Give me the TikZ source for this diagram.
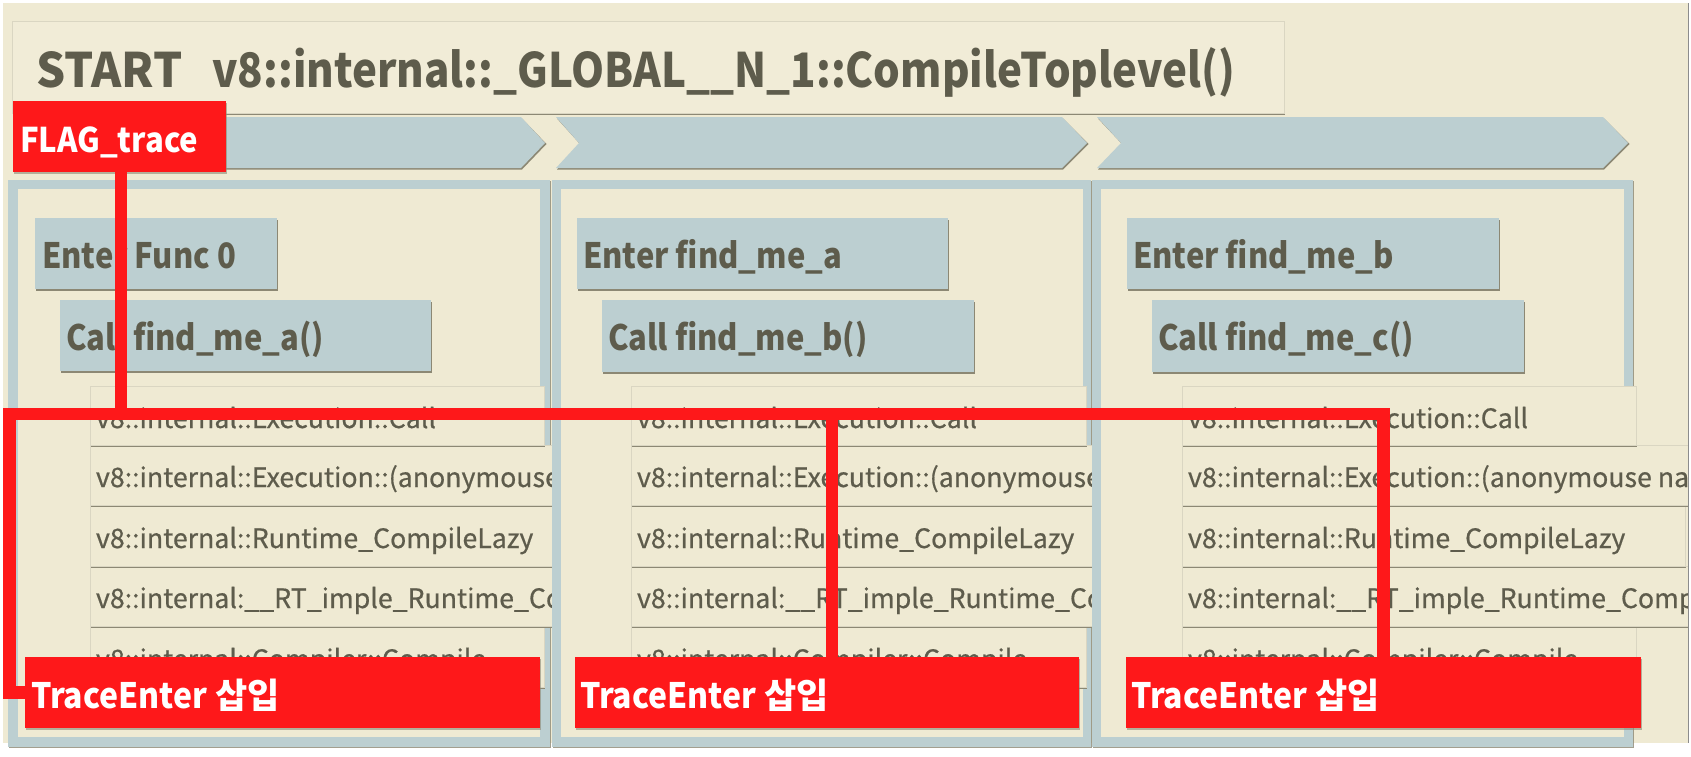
\documentclass[tikz,border=0pt]{standalone}
\usepackage{fontspec}
\setmainfont{Noto Sans CJK KR}
\newfontfamily\condA{Noto Sans CJK KR}[FakeStretch=0.885]
\newfontfamily\condB{Noto Sans CJK KR}[FakeStretch=0.915]
\newfontfamily\rowf{Noto Sans CJK KR}[FakeBold=0.6]
\usetikzlibrary{shadows}
\definecolor{bgc}{RGB}{239,234,211}
\definecolor{bgl}{RGB}{241,236,215}
\definecolor{blu}{RGB}{188,207,209}
\definecolor{txt}{RGB}{94,92,76}
\definecolor{shd}{RGB}{140,136,116}
\definecolor{rd}{RGB}{254,24,26}
\definecolor{rowedge}{RGB}{218,214,194}
\begin{document}
\begin{tikzpicture}[x=1pt,y=-1pt,
  box/.style={anchor=north west, inner sep=0pt, outer sep=0pt, draw=none},
  bluebox/.style={box, fill=blu, drop shadow={shadow xshift=1pt, shadow yshift=-1.8pt, fill=shd, opacity=1}},
  rowbox/.style={box, fill=bgc, draw=rowedge, line width=0.8pt, drop shadow={shadow xshift=0.8pt, shadow yshift=-1.6pt, fill=shd, opacity=1}},
  redbox/.style={box, fill=rd, drop shadow={shadow xshift=1pt, shadow yshift=-1.5pt, fill=shd, opacity=0.6}},
  paneout/.style={box, fill=blu, drop shadow={shadow xshift=1.2pt, shadow yshift=-1pt, fill=shd, opacity=0.8}},
  panein/.style={box, fill=bgc},
  lbl/.style={anchor=base west, inner sep=0pt, outer sep=0pt, text=txt, font=\condA\bfseries\fontsize{35}{40}\selectfont},
  rowlbl/.style={anchor=base west, inner sep=0pt, outer sep=0pt, text=txt, font=\rowf\fontsize{26.7}{32}\selectfont},
  wlbl/.style={anchor=base west, inner sep=0pt, outer sep=0pt, text=white, font=\bfseries\fontsize{35}{40}\selectfont},
  redline/.style={draw=rd, line width=12.5pt},
  chev/.style={fill=blu},
  chevshd/.style={fill=shd},
]
\useasboundingbox (0,0) rectangle (1691,756);
\fill[white] (0,0) rectangle (1691,756);
\fill[bgc] (3,3) rectangle (1688,743);

% title
\node[box, fill=bgl, draw=rowedge, line width=0.8pt, drop shadow={shadow xshift=1pt, shadow yshift=-1.6pt, fill=shd, opacity=1}, minimum width=1272pt, minimum height=92pt] (title) at (12,21) {};
\node[lbl, font=\condA\bfseries\fontsize{47.5}{56}\selectfont] (titletxt) at (36,87) {\scalebox{1.09}[1]{START}\hspace{30pt}v8::internal::\_GLOBAL\_\_N\_1::CompileToplevel()};

% chevrons
\fill[chevshd] (14,118.5) -- (522,118.5) -- (546.5,144) -- (522,169.5) -- (14,169.5) -- cycle;
\fill[chev] (13,117) -- (521,117) -- (545,143) -- (521,168) -- (13,168) -- cycle;
\fill[chevshd] (557,118.5) -- (1063,118.5) -- (1088.5,144) -- (1063,169.5) -- (557,169.5) -- (580,144) -- cycle;
\fill[chev] (556,117) -- (1062,117) -- (1087,143) -- (1062,168) -- (556,168) -- (579,143) -- cycle;
\fill[chevshd] (1098,118.5) -- (1604,118.5) -- (1629.5,144) -- (1604,169.5) -- (1098,169.5) -- (1122,144) -- cycle;
\fill[chev] (1097,117) -- (1603,117) -- (1628,143) -- (1603,168) -- (1097,168) -- (1121,143) -- cycle;

% panel 1
\node[paneout, minimum width=542pt, minimum height=567pt] (p1o) at (8,180) {};
\node[panein, minimum width=522pt, minimum height=548pt] (p1) at (18,189) {};
\node[bluebox, minimum width=242pt, minimum height=71pt] (e1) at (35,218) {};
\node[lbl] (e1t) at (42,268) {Enter Func 0};
\node[bluebox, minimum width=371pt, minimum height=71pt] (c1) at (60,300) {};
\node[lbl] (c1t) at (66,350) {Call find\_me\_a()};
\node[rowbox, minimum width=454pt, minimum height=61pt] (r15) at (90,626) {};
\node[rowbox, minimum width=470pt, minimum height=60pt] (r14) at (90,566) {};
\node[rowbox, minimum width=470pt, minimum height=61pt] (r13) at (90,505) {};
\node[rowbox, minimum width=470pt, minimum height=60pt] (r12) at (90,445) {};
\node[rowbox, minimum width=454pt, minimum height=59pt] (r11) at (90,386) {};
\node[rowlbl] (r11t) at (96,428) {v8::internal::Execution::Call};
\node[rowlbl] (r12t) at (96,487) {v8::internal::Execution::(anonymouse};
\node[rowlbl] (r13t) at (96,548) {v8::internal::Runtime\_CompileLazy};
\node[rowlbl] (r14t) at (96,608) {v8::internal:\_\_RT\_imple\_Runtime\_Com};
\node[rowlbl] (r15t) at (96,669) {v8::internal::Compiler::Compile};

% panel 2
\node[paneout, minimum width=539pt, minimum height=567pt] (p2o) at (552,180) {};
\node[panein, minimum width=522pt, minimum height=548pt] (p2) at (561,189) {};
\node[bluebox, minimum width=371pt, minimum height=71pt] (e2) at (577,218) {};
\node[lbl] (e2t) at (583,268) {Enter find\_me\_a};
\node[bluebox, minimum width=372pt, minimum height=72pt] (c2) at (602,300) {};
\node[lbl] (c2t) at (608,350) {Call find\_me\_b()};
\node[rowbox, minimum width=455pt, minimum height=61pt] (r25) at (631,626) {};
\node[rowbox, minimum width=470pt, minimum height=60pt] (r24) at (631,566) {};
\node[rowbox, minimum width=470pt, minimum height=61pt] (r23) at (631,505) {};
\node[rowbox, minimum width=470pt, minimum height=60pt] (r22) at (631,445) {};
\node[rowbox, minimum width=455pt, minimum height=59pt] (r21) at (631,386) {};
\node[rowlbl] (r21t) at (637,428) {v8::internal::Execution::Call};
\node[rowlbl] (r22t) at (637,487) {v8::internal::Execution::(anonymouse};
\node[rowlbl] (r23t) at (637,548) {v8::internal::Runtime\_CompileLazy};
\node[rowlbl] (r24t) at (637,608) {v8::internal:\_\_RT\_imple\_Runtime\_Com};
\node[rowlbl] (r25t) at (637,669) {v8::internal::Compiler::Compile};

% panel 3
\node[paneout, minimum width=541pt, minimum height=567pt] (p3o) at (1092,180) {};
\node[panein, minimum width=523pt, minimum height=548pt] (p3) at (1101,189) {};
\node[bluebox, minimum width=372pt, minimum height=71pt] (e3) at (1127,218) {};
\node[lbl] (e3t) at (1133,268) {Enter find\_me\_b};
\node[bluebox, minimum width=372pt, minimum height=72pt] (c3) at (1152,300) {};
\node[lbl] (c3t) at (1158,350) {Call find\_me\_c()};
\node[rowbox, minimum width=454pt, minimum height=61pt] (r35) at (1182,626) {};
\node[rowbox, minimum width=530pt, minimum height=60pt] (r34) at (1182,566) {};
\node[rowbox, minimum width=503pt, minimum height=61pt] (r33) at (1182,505) {};
\node[rowbox, minimum width=530pt, minimum height=60pt] (r32) at (1182,445) {};
\node[rowbox, minimum width=454pt, minimum height=59pt] (r31) at (1182,386) {};
\node[rowlbl] (r31t) at (1188,428) {v8::internal::Execution::Call};
\node[rowlbl] (r32t) at (1188,487) {v8::internal::Execution::(anonymouse na};
\node[rowlbl] (r33t) at (1188,548) {v8::internal::Runtime\_CompileLazy};
\node[rowlbl] (r34t) at (1188,608) {v8::internal:\_\_RT\_imple\_Runtime\_Compi};
\node[rowlbl] (r35t) at (1188,669) {v8::internal::Compiler::Compile};

% red boxes
\node[redbox, minimum width=213pt, minimum height=71pt] (flag) at (13,101) {};
\node[wlbl, font=\condB\bfseries\fontsize{34}{40}\selectfont] (flagt) at (20,152) {FLAG\_trace};
\node[redbox, minimum width=515pt, minimum height=71pt] (te1) at (25,657) {};
\node[redbox, minimum width=504pt, minimum height=71pt] (te2) at (575,657) {};
\node[redbox, minimum width=515pt, minimum height=71pt] (te3) at (1126,657) {};
\node[wlbl] (te1t) at (31,708) {{\condB TraceEnter} 삽입};
\node[wlbl] (te2t) at (580,708) {{\condB TraceEnter} 삽입};
\node[wlbl] (te3t) at (1131,708) {{\condB TraceEnter} 삽입};

% red connectors
\coordinate (jl) at (9.5,414);
\draw[redline] (te1.west) -| (jl) -| (te3.north);
\draw[redline] ([xshift=1.5pt]flag.south) -- ([xshift=1.5pt]flag.south |- jl);
\draw[redline] ([xshift=5pt]te2.north) -- ([xshift=5pt]te2.north |- jl);

% right page edge
\fill[white] (1688.5,0) rectangle (1691,756);
\draw[black!45, line width=1pt] (1688,3) -- (1688,743);
\end{tikzpicture}
\end{document}
